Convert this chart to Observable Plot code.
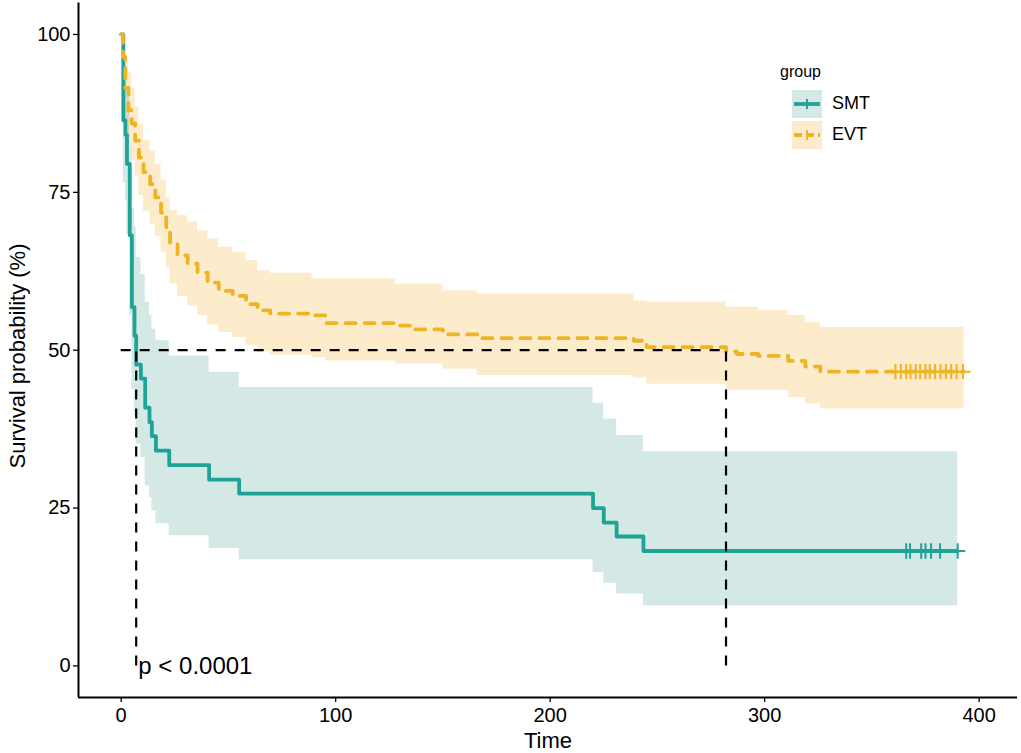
<!DOCTYPE html>
<html>
<head>
<meta charset="utf-8">
<script src="https://cdn.jsdelivr.net/npm/d3@7"></script>
<script src="https://cdn.jsdelivr.net/npm/@observablehq/plot@0.6"></script>
<style>
  html, body { margin: 0; padding: 0; background: #fff; }
  #wrap { position: relative; width: 1021px; height: 753px; font-family: "Liberation Sans", Arial, sans-serif; }
  #legend { position: absolute; left: 779px; top: 63px; font-family: "Liberation Sans", Arial, sans-serif; color: #000; }
  #legend .title { font-size: 16px; margin: 0 0 7px 1px; }
  #legend .item { display: flex; align-items: center; height: 31px; }
  #legend .item span { font-size: 18px; margin-left: 10px; }
  .axtitle { position: absolute; font-size: 22px; color: #000; white-space: nowrap; line-height: 1; }
  #xtitle { left: 548px; top: 741px; transform: translate(-50%, -50%); }
  #ytitle { left: 18px; top: 356px; transform: translate(-50%, -50%) rotate(-90deg); }
</style>
</head>
<body>
<div id="wrap"></div>
<script>
// ---- data ----
const groups = ["SMT", "EVT"];
const colors = ["#20A397", "#EFB424"];
const bandColors = ["#2A8C84", "#F0A000"];

const smtTime  = [0, 1, 2, 2.7, 4, 5, 6.2, 7, 9.2, 11.2, 13.2, 14.3, 16.2, 22.4, 41, 55, 220, 225, 231, 243.5, 390];
const smtSurv  = [100, 86.4, 84.1, 79.5, 68.2, 56.8, 52.3, 47.7, 45.5, 40.9, 38.6, 36.4, 34.1, 31.8, 29.5, 27.3, 25.0, 22.7, 20.5, 18.2, 18.2];
const smtLower = [100, 76.5, 73.6, 68.3, 55.5, 43.8, 39.6, 35.1, 33.0, 28.5, 26.6, 24.6, 22.5, 20.6, 18.6, 16.8, 14.8, 13.1, 11.4, 9.5, 9.5];
const smtUpper = [100, 96.7, 95.0, 91.7, 82.4, 72.5, 69.5, 64.7, 62.0, 57.6, 55.5, 53.3, 51.5, 49.1, 46.5, 44.1, 41.6, 39.1, 36.5, 33.9, 33.9];
const smtCensor = [366, 367.8, 373, 375, 377.6, 381.8, 390];

const evtTime  = [0, 0.8, 1.9, 3.4, 4.9, 6.5, 8.3, 10.4, 13.5, 15.9, 18.6, 21.0, 22.8, 26.3, 31.0, 35.6, 40.3, 45.5, 52.0, 58.2, 63.6, 69.5, 89, 95.5, 128, 135, 150, 166, 239, 245, 282, 287, 297, 311, 319, 326, 393];
const evtSurv  = [100, 96.5, 91.5, 88.0, 85.9, 83.2, 80.5, 78.2, 76.3, 74.2, 71.8, 69.5, 66.9, 65.0, 63.7, 62.3, 60.7, 59.4, 58.6, 57.3, 56.3, 55.8, 55.5, 54.3, 53.9, 53.3, 52.5, 51.9, 51.5, 50.5, 49.8, 49.4, 49.1, 48.3, 47.4, 46.6, 46.6];
const evtLower = [100, 92.5, 86.5, 82.5, 80.0, 77.5, 74.5, 72.0, 70.0, 68.0, 65.5, 63.0, 60.5, 58.5, 57.0, 55.5, 54.0, 52.8, 52.0, 50.7, 49.7, 49.2, 48.8, 48.3, 47.8, 47.8, 47.0, 46.0, 45.6, 44.6, 43.6, 43.6, 43.6, 42.5, 41.5, 40.7, 40.7];
const evtUpper = [100, 99.5, 96.0, 93.9, 91.5, 88.5, 85.8, 83.2, 81.5, 79.5, 76.9, 74.2, 72.1, 71.3, 70.3, 68.9, 67.6, 66.3, 65.5, 64.2, 62.6, 62.2, 61.3, 61.3, 60.5, 60.5, 59.4, 58.9, 57.8, 57.6, 56.8, 56.8, 56.3, 55.5, 54.4, 53.6, 53.6];
const evtCensor = [361, 363.5, 366, 368, 370.5, 372.5, 375, 377, 379.5, 382, 384.5, 387, 389.5, 392.5];

const medianTimes = [7, 282];
const medianLevel = 50;
const xTicks = [0, 100, 200, 300, 400];
const yTicks = [0, 25, 50, 75, 100];
const xDomain = [-19.9, 417.9];
const yDomain = [-5, 105];
const pText = "p < 0.0001";
const pPos = {t: 8, s: 0};
const xTitle = "Time";
const yTitle = "Survival probability (%)";
const legendTitle = "group";

// ---- build tables ----
const smt = smtTime.map((t, i) => ({t, s: smtSurv[i], lo: smtLower[i], hi: smtUpper[i]}));
const evt = evtTime.map((t, i) => ({t, s: evtSurv[i], lo: evtLower[i], hi: evtUpper[i]}));
const smtC = smtCensor.map(t => ({t, s: smtSurv[smtSurv.length - 1]}));
const evtC = evtCensor.map(t => ({t, s: evtSurv[evtSurv.length - 1]}));
const medH = [{x1: 0, x2: d3.max(medianTimes), y: medianLevel}];
const medV = medianTimes.map(t => ({x: t, y1: 0, y2: medianLevel}));

const font = "'Liberation Sans', Arial, sans-serif";

const chart = Plot.plot({
  width: 1021,
  height: 753,
  marginLeft: 78,
  marginRight: 4,
  marginTop: 2.4,
  marginBottom: 56,
  x: {domain: xDomain},
  y: {domain: yDomain},
  style: {fontFamily: font, background: "white", color: "black"},
  marks: [
    Plot.areaY(evt, {x: "t", y1: "lo", y2: "hi", curve: "step-after", fill: bandColors[1], fillOpacity: 0.2}),
    Plot.areaY(smt, {x: "t", y1: "lo", y2: "hi", curve: "step-after", fill: bandColors[0], fillOpacity: 0.2}),
    Plot.line(smt, {x: "t", y: "s", curve: "step-after", stroke: colors[0], strokeWidth: 3.8}),
    Plot.line(evt, {x: "t", y: "s", curve: "step-after", stroke: colors[1], strokeWidth: 3.8, strokeDasharray: "10,9"}),
    Plot.dot(smtC, {x: "t", y: "s", symbol: "plus", r: 5, stroke: colors[0], strokeWidth: 2}),
    Plot.dot(evtC, {x: "t", y: "s", symbol: "plus", r: 5, stroke: colors[1], strokeWidth: 2}),
    Plot.ruleY(medH, {x1: "x1", x2: "x2", y: "y", stroke: "black", strokeWidth: 2.2, strokeDasharray: "10,9"}),
    Plot.ruleX(medV, {x: "x", y1: "y1", y2: "y2", stroke: "black", strokeWidth: 2.2, strokeDasharray: "10,9"}),
    Plot.text([pText], {x: pPos.t, y: pPos.s, text: d => d, textAnchor: "start", fontSize: 24, fill: "black"}),
    Plot.ruleX([xDomain[0]], {stroke: "black", strokeWidth: 2}),
    Plot.ruleY([yDomain[0]], {stroke: "black", strokeWidth: 2}),
    Plot.axisX({ticks: xTicks, tickSize: 5, tickPadding: 5, fontSize: 20, label: null, strokeWidth: 1.3, color: "black"}),
    Plot.axisY({ticks: yTicks, tickSize: 5, tickPadding: 3, fontSize: 20, label: null, strokeWidth: 1.3, color: "black"})
  ]
});

const wrap = document.getElementById("wrap");
wrap.appendChild(chart);

// ---- axis titles (HTML overlay) ----
const xt = document.createElement("div");
xt.id = "xtitle"; xt.className = "axtitle"; xt.textContent = xTitle;
wrap.appendChild(xt);
const yt = document.createElement("div");
yt.id = "ytitle"; yt.className = "axtitle"; yt.textContent = yTitle;
wrap.appendChild(yt);

// ---- legend (HTML overlay) ----
const legend = document.createElement("div");
legend.id = "legend";
let html = `<div class="title">${legendTitle}</div>`;
groups.forEach((g, i) => {
  const dash = i === 1 ? `stroke-dasharray="8,4"` : "";
  html += `<div class="item">
    <svg width="30" height="28" style="margin-left:13px">
      <rect x="0" y="0" width="30" height="28" fill="${bandColors[i]}" fill-opacity="0.2"></rect>
      <line x1="2" x2="28" y1="14" y2="14" stroke="${colors[i]}" stroke-width="3.8" ${dash}></line>
      <line x1="15" x2="15" y1="9" y2="19" stroke="${colors[i]}" stroke-width="2"></line>
    </svg><span>${g}</span></div>`;
});
legend.innerHTML = html;
wrap.appendChild(legend);
</script>
</body>
</html>
